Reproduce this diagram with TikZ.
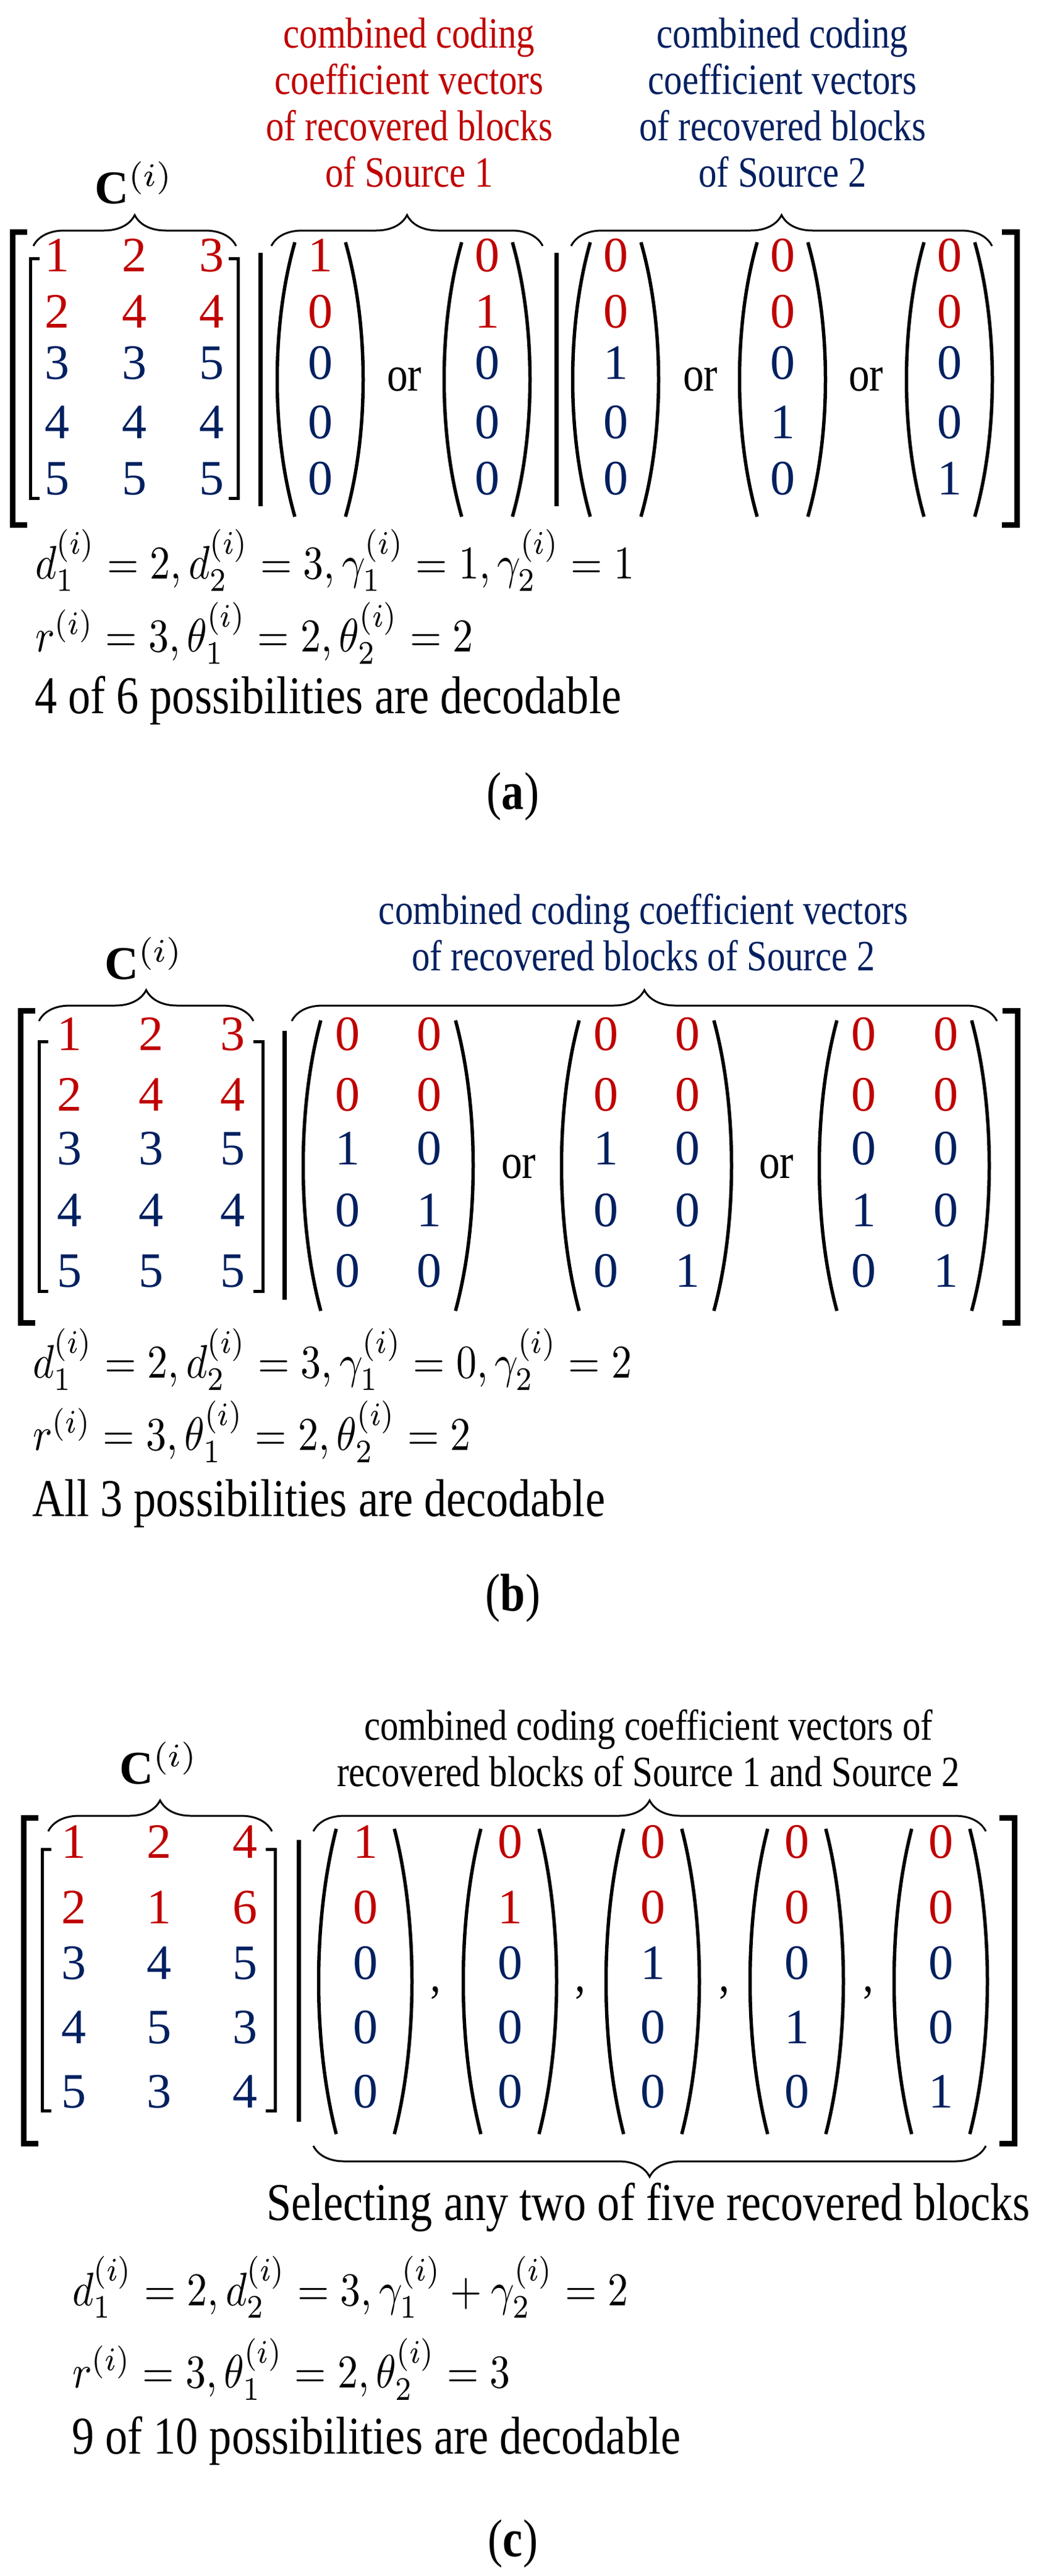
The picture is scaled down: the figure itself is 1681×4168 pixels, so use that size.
\documentclass[tikz,border=0pt]{standalone}
\usepackage{fontspec}
\setmainfont{Liberation Serif}
\usetikzlibrary{decorations.pathreplacing}
\definecolor{cred}{RGB}{192,0,0}
\definecolor{cblue}{RGB}{0,32,96}
\tikzset{
  num/.style={font=\fontsize{80}{80}\selectfont,inner sep=0pt,text height=0.68em,text depth=0pt},
  txt/.style={inner sep=0pt,xscale=0.84},
  head/.style={txt,align=center,font=\fontsize{70}{75}\selectfont},
  line/.style={txt,anchor=base west,font=\fontsize{86}{90}\selectfont},
  mline/.style={inner sep=0pt,xscale=6.6,yscale=7.6,anchor=base west,font=\fontsize{10}{12}\selectfont},
  cmat/.style={inner sep=0pt,scale=7.6,font=\fontsize{10}{12}\selectfont},
  brc/.style={decorate,decoration={brace,amplitude=50pt},line width=3pt},
  obr/.style={line width=9pt},
  ibr/.style={line width=5pt},
  bar/.style={line width=7pt},
  par/.style={line width=5.5pt}
}
\newcommand\mrow[4]{\foreach \x/\v [count=\k] in {#4} \node[num,text=#3] (#1-\k) at (\x,#2) {\v};}
\newcommand\myvec[5]{% name, cx, ytop, ybot, halfwidth
  \coordinate (#1-lt) at ({#2-#5+32},#3); \coordinate (#1-lb) at ({#2-#5+32},#4);
  \coordinate (#1-rt) at ({#2+#5-32},#3); \coordinate (#1-rb) at ({#2+#5-32},#4);
  \draw[par] (#1-lt) .. controls ({#2-#5-6},{#3+0.3*(#4-#3)}) and ({#2-#5-6},{#4-0.3*(#4-#3)}) .. (#1-lb);
  \draw[par] (#1-rt) .. controls ({#2+#5+6},{#3+0.3*(#4-#3)}) and ({#2+#5+6},{#4-0.3*(#4-#3)}) .. (#1-rb);}
\newcommand\obrk[5]{% name, xl, xr, ytop, ybot
  \coordinate (#1-a) at ({#2+24},#4); \coordinate (#1-b) at ({#3-24},#4);
  \draw[obr] (#1-a) -| (#2,#5) -- ({#2+24},#5);
  \draw[obr] (#1-b) -| (#3,#5) -- ({#3-24},#5);}
\newcommand\ibrk[5]{%
  \coordinate (#1-a) at ({#2+15},#4); \coordinate (#1-b) at ({#3-15},#4);
  \draw[ibr] (#1-a) -| (#2,#5) -- ({#2+15},#5);
  \draw[ibr] (#1-b) -| (#3,#5) -- ({#3-15},#5);}
\begin{document}
\begin{tikzpicture}[x=1pt,y=-1pt]
\useasboundingbox[fill=white] (0,0) rectangle (1681,4168);
% ================= (a)
\node[head,text=cred] (ah1) at (662,166) {combined coding\\coefficient vectors\\of recovered blocks\\of Source 1};
\node[head,text=cblue] (ah2) at (1266,166) {combined coding\\coefficient vectors\\of recovered blocks\\of Source 2};
\node[cmat] (aC) at (217,296) {$\mathbf{C}^{(i)}$};
\coordinate (ab1s) at (54,398); \coordinate (ab1e) at (382,398);
\draw[brc] (ab1s) -- (ab1e);
\coordinate (ab2s) at (439,398); \coordinate (ab2e) at (878,398);
\draw[brc] (ab2s) -- (ab2e);
\coordinate (ab3s) at (924,398); \coordinate (ab3e) at (1605,398);
\draw[brc] (ab3s) -- (ab3e);
\obrk{aO}{20}{1645}{375}{849}
\ibrk{aI}{49}{385}{418}{806}
\mrow{am1}{436}{cred}{92/1,217/2,342/3}
\mrow{am2}{527}{cred}{92/2,217/4,342/4}
\mrow{am3}{610}{cblue}{92/3,217/3,342/5}
\mrow{am4}{706}{cblue}{92/4,217/4,342/4}
\mrow{am5}{797}{cblue}{92/5,217/5,342/5}
\coordinate (aB1t) at (421,409); \coordinate (aB1b) at (421,819); \draw[bar] (aB1t) -- (aB1b);
\coordinate (aB2t) at (900,409); \coordinate (aB2b) at (900,819); \draw[bar] (aB2t) -- (aB2b);
\myvec{aV1}{518}{392}{836}{73}
\myvec{aV2}{788}{392}{836}{73}
\myvec{aV3}{996}{392}{836}{73}
\myvec{aV4}{1266}{392}{836}{73}
\myvec{aV5}{1536}{392}{836}{73}
\mrow{av1}{436}{cred}{518/1,788/0,996/0,1266/0,1536/0}
\mrow{av2}{527}{cred}{518/0,788/1,996/0,1266/0,1536/0}
\mrow{av3}{610}{cblue}{518/0,788/0,996/1,1266/0,1536/0}
\mrow{av4}{706}{cblue}{518/0,788/0,996/0,1266/1,1536/0}
\mrow{av5}{797}{cblue}{518/0,788/0,996/0,1266/0,1536/1}
\foreach \x [count=\k] in {654,1133,1401} \node[txt,font=\fontsize{80}{80}\selectfont] (aor\k) at (\x,614) {or};
\node[mline] (at1) at (56,936) {$d_1^{(i)}=2,d_2^{(i)}=3,\gamma_1^{(i)}=1,\gamma_2^{(i)}=1$};
\node[mline] (at2) at (56,1054) {$r^{(i)}=3,\theta_1^{(i)}=2,\theta_2^{(i)}=2$};
\node[line] (at3) at (56,1154) {4 of 6 possibilities are decodable};
\node[txt,font=\fontsize{86}{90}\selectfont] (acap) at (830,1289) {(\textbf{a})};
% ================= (b)
\node[head,text=cblue] (bh) at (1041,1509) {combined coding coefficient vectors\\of recovered blocks of Source 2};
\node[cmat] (bC) at (233,1551) {$\mathbf{C}^{(i)}$};
\coordinate (bb1s) at (63,1652); \coordinate (bb1e) at (410,1652);
\draw[brc] (bb1s) -- (bb1e);
\coordinate (bb2s) at (472,1652); \coordinate (bb2e) at (1613,1652);
\draw[brc] (bb2s) -- (bb2e);
\obrk{bO}{33}{1646}{1635}{2140}
\ibrk{bI}{63}{425}{1685}{2089}
\mrow{bm1}{1696}{cred}{112/1,244/2,376/3}
\mrow{bm2}{1794}{cred}{112/2,244/4,376/4}
\mrow{bm3}{1881}{cblue}{112/3,244/3,376/5}
\mrow{bm4}{1981}{cblue}{112/4,244/4,376/4}
\mrow{bm5}{2079}{cblue}{112/5,244/5,376/5}
\coordinate (bBt) at (460,1668); \coordinate (bBb) at (460,2103); \draw[bar] (bBt) -- (bBb);
\myvec{bV1}{628}{1651}{2121}{141}
\myvec{bV2}{1046}{1651}{2121}{141}
\myvec{bV3}{1463}{1651}{2121}{141}
\mrow{bv1}{1696}{cred}{562/0,694/0,980/0,1112/0,1397/0,1530/0}
\mrow{bv2}{1794}{cred}{562/0,694/0,980/0,1112/0,1397/0,1530/0}
\mrow{bv3}{1881}{cblue}{562/1,694/0,980/1,1112/0,1397/0,1530/0}
\mrow{bv4}{1981}{cblue}{562/0,694/1,980/0,1112/0,1397/1,1530/0}
\mrow{bv5}{2079}{cblue}{562/0,694/0,980/0,1112/1,1397/0,1530/1}
\foreach \x [count=\k] in {839,1256} \node[txt,font=\fontsize{80}{80}\selectfont] (bor\k) at (\x,1888) {or};
\node[mline] (bt1) at (52,2229) {$d_1^{(i)}=2,d_2^{(i)}=3,\gamma_1^{(i)}=0,\gamma_2^{(i)}=2$};
\node[mline] (bt2) at (52,2346) {$r^{(i)}=3,\theta_1^{(i)}=2,\theta_2^{(i)}=2$};
\node[line] (bt3) at (52,2453) {All 3 possibilities are decodable};
\node[txt,font=\fontsize{86}{90}\selectfont] (bcap) at (830,2586) {(\textbf{b})};
% ================= (c)
\node[head,text=black] (ch) at (1049,2829) {combined coding coefficient vectors of\\recovered blocks of Source 1 and Source 2};
\node[cmat] (cC) at (257,2853) {$\mathbf{C}^{(i)}$};
\coordinate (cb1s) at (78,2963); \coordinate (cb1e) at (440,2963);
\draw[brc] (cb1s) -- (cb1e);
\coordinate (cb2s) at (507,2963); \coordinate (cb2e) at (1595,2963);
\draw[brc] (cb2s) -- (cb2e);
\obrk{cO}{38}{1641}{2941}{3468}
\ibrk{cI}{68}{445}{2992}{3415}
\mrow{cm1}{3003}{cred}{119/1,257/2,396/4}
\mrow{cm2}{3109}{cred}{119/2,257/1,396/6}
\mrow{cm3}{3199}{cblue}{119/3,257/4,396/5}
\mrow{cm4}{3303}{cblue}{119/4,257/5,396/3}
\mrow{cm5}{3407}{cblue}{119/5,257/3,396/4}
\coordinate (cBt) at (483,2977); \coordinate (cBb) at (483,3433); \draw[bar] (cBt) -- (cBb);
\myvec{cV1}{591}{2959}{3453}{79}
\myvec{cV2}{825}{2959}{3453}{79}
\myvec{cV3}{1056}{2959}{3453}{79}
\myvec{cV4}{1289}{2959}{3453}{79}
\myvec{cV5}{1522}{2959}{3453}{79}
\mrow{cv1}{3003}{cred}{591/1,825/0,1056/0,1289/0,1522/0}
\mrow{cv2}{3109}{cred}{591/0,825/1,1056/0,1289/0,1522/0}
\mrow{cv3}{3199}{cblue}{591/0,825/0,1056/1,1289/0,1522/0}
\mrow{cv4}{3303}{cblue}{591/0,825/0,1056/0,1289/1,1522/0}
\mrow{cv5}{3407}{cblue}{591/0,825/0,1056/0,1289/0,1522/1}
\foreach \x [count=\k] in {705,939,1172,1405} \node[txt,font=\fontsize{80}{80}\selectfont] (ccm\k) at (\x,3224) {,};
\coordinate (cb3s) at (1595,3472); \coordinate (cb3e) at (507,3472);
\draw[brc] (cb3s) -- (cb3e);
\node[txt,font=\fontsize{86}{90}\selectfont] (csel) at (1049,3571) {Selecting any two of five recovered blocks};
\node[mline] (ct1) at (116,3730) {$d_1^{(i)}=2,d_2^{(i)}=3,\gamma_1^{(i)}+\gamma_2^{(i)}=2$};
\node[mline] (ct2) at (116,3863) {$r^{(i)}=3,\theta_1^{(i)}=2,\theta_2^{(i)}=3$};
\node[line] (ct3) at (116,3970) {9 of 10 possibilities are decodable};
\node[txt,font=\fontsize{86}{90}\selectfont] (ccap) at (830,4116) {(\textbf{c})};
\end{tikzpicture}
\end{document}
